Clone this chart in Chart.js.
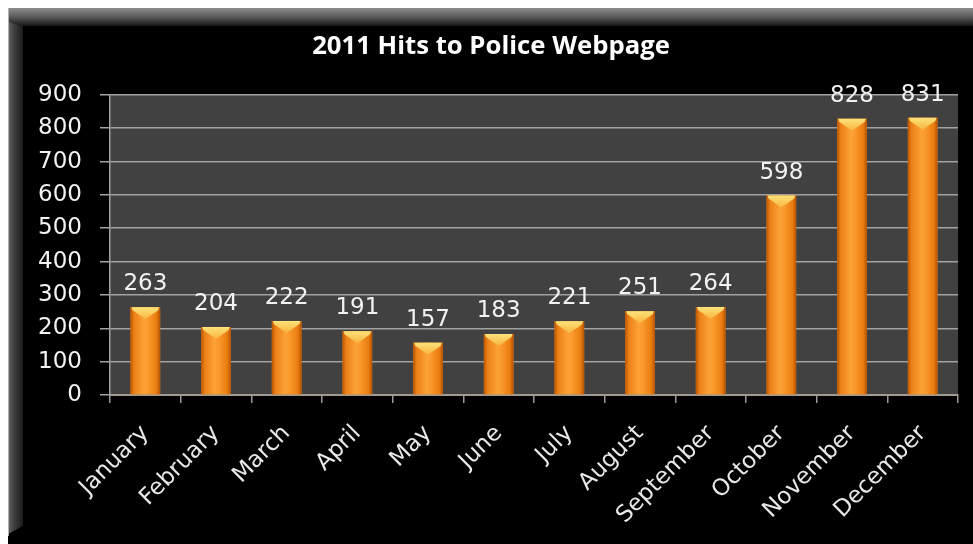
<!DOCTYPE html>
<html lang="en">
<head>
  <meta charset="UTF-8">
  <title>2011 Hits to Police Webpage</title>
  <script src="https://cdn.jsdelivr.net/npm/chart.js"></script>
  <style>
    html, body { margin: 0; padding: 0; background: #fff; }
    #wrap { position: absolute; left: 0; top: 0; width: 973px; height: 544px; }
  </style>
</head>
<body>
<div id="wrap"><canvas id="chart"></canvas></div>

<script>
  // monthly hits
  const months = ['January', 'February', 'March', 'April', 'May', 'June',
                  'July', 'August', 'September', 'October', 'November', 'December'];
  const hits = [263, 204, 222, 191, 157, 183, 221, 251, 264, 598, 828, 831];

  const yMin = 0;
  const yMax = 900;
  const yStep = 100;

  const tickFont = { family: 'DejaVu Sans', size: 23 };

  // black panel with the grey bevel on top and left, grey plot area
  const framePlugin = {
    id: 'frame',
    beforeDraw(chart) {
      const c = chart.ctx;
      const W = chart.width, H = chart.height;
      c.save();
      c.fillStyle = '#000';
      c.fillRect(8, 8, W - 8, H - 8);

      let g = c.createLinearGradient(0, 8, 0, 26);
      g.addColorStop(0, '#8c8c8c');
      g.addColorStop(0.5, '#5a5a5a');
      g.addColorStop(1, '#151515');
      c.fillStyle = g;
      c.fillRect(8, 8, W - 8, 18);

      g = c.createLinearGradient(8, 0, 23, 0);
      g.addColorStop(0, '#6a6a6a');
      g.addColorStop(0.3, '#464646');
      g.addColorStop(1, '#1a1a1a');
      c.fillStyle = g;
      c.beginPath();
      c.moveTo(8, 22);
      c.lineTo(23, 26);
      c.lineTo(23, 526);
      c.lineTo(8, 534);
      c.closePath();
      c.fill();

      c.fillStyle = '#b0b0b0';
      c.fillRect(8, 8, 1, H - 16);

      const a = chart.chartArea;
      c.fillStyle = '#414141';
      c.fillRect(a.left, a.top, a.right - a.left, a.bottom - a.top);
      c.restore();
    }
  };

  // shaded bars with a bevelled top, value written above each one
  const barPlugin = {
    id: 'barLook',
    afterDatasetsDraw(chart) {
      const c = chart.ctx;
      const meta = chart.getDatasetMeta(0);
      c.save();
      meta.data.forEach((bar, i) => {
        const half = bar.width / 2;
        const l = bar.x - half, r = bar.x + half;
        const top = bar.y, base = bar.base;

        let g = c.createLinearGradient(l, 0, r, 0);
        g.addColorStop(0, '#b85606');
        g.addColorStop(0.12, '#ec8016');
        g.addColorStop(0.45, '#fca236');
        g.addColorStop(0.6, '#fa992c');
        g.addColorStop(0.88, '#e97c0f');
        g.addColorStop(1, '#b35204');
        c.fillStyle = g;
        c.fillRect(l, top, r - l, base - top);

        const depth = Math.min(12, (base - top) / 2);
        g = c.createLinearGradient(0, top, 0, top + depth);
        g.addColorStop(0, '#fde27a');
        g.addColorStop(1, '#f7b43e');
        c.fillStyle = g;
        c.beginPath();
        c.moveTo(l + 1, top);
        c.lineTo(r - 1, top);
        c.lineTo(r - 2, top + 3);
        c.lineTo(bar.x, top + depth);
        c.lineTo(l + 2, top + 3);
        c.closePath();
        c.fill();

        c.font = '23px "DejaVu Sans"';
        c.fillStyle = '#f2f2f2';
        c.textAlign = 'center';
        c.textBaseline = 'alphabetic';
        c.fillText(String(hits[i]), bar.x, top - 17);
      });
      c.restore();
    }
  };

  new Chart(document.getElementById('chart'), {
    type: 'bar',
    data: {
      labels: months,
      datasets: [{
        data: hits,
        backgroundColor: '#f28c22',
        borderWidth: 0,
        barPercentage: 0.42,
        categoryPercentage: 1
      }]
    },
    options: {
      responsive: true,
      maintainAspectRatio: false,
      animation: false,
      layout: { padding: { left: 24, right: 15, top: 0, bottom: 0 } },
      plugins: {
        legend: { display: false },
        tooltip: { enabled: false },
        title: {
          display: true,
          text: '2011 Hits to Police Webpage',
          color: '#ffffff',
          font: { family: 'Open Sans', size: 25.7, weight: 'bold', lineHeight: 1.2 },
          padding: { top: 31, bottom: 33 }
        }
      },
      scales: {
        x: {
          afterFit(s) { s.height = 149; },
          grid: {
            display: true,
            drawOnChartArea: false,
            color: '#9a9a9a',
            tickLength: 8,
            lineWidth: 1.5
          },
          border: { color: '#a09a90', width: 2 },
          ticks: {
            color: '#e8e8e8',
            font: tickFont,
            minRotation: 45,
            maxRotation: 45,
            padding: 17,
            autoSkip: false
          }
        },
        y: {
          min: yMin,
          max: yMax,
          afterFit(s) { s.width = 86; },
          grid: {
            color: '#a2a2a2',
            lineWidth: 1.5,
            tickLength: 10
          },
          border: { color: '#a2a2a2', width: 1.5 },
          ticks: {
            stepSize: yStep,
            color: '#f2f2f2',
            font: tickFont,
            padding: 18
          }
        }
      }
    },
    plugins: [framePlugin, barPlugin]
  });
</script>
</body>
</html>
